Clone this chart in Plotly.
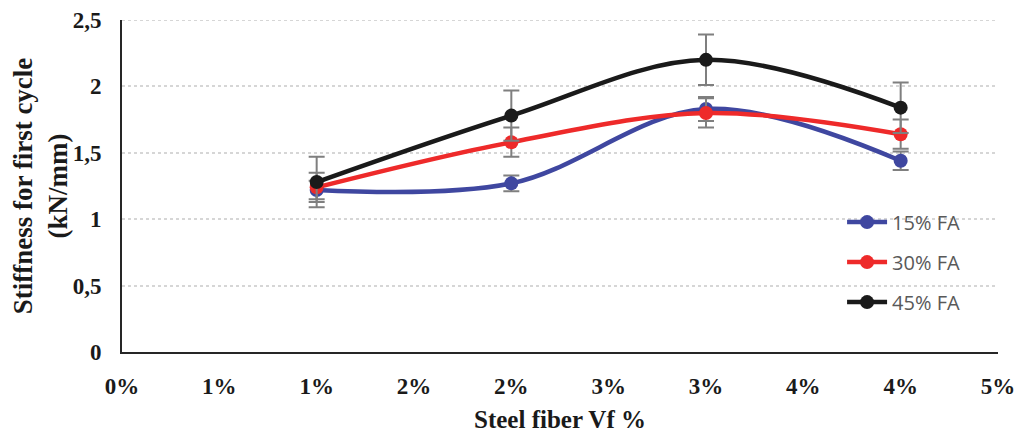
import plotly.graph_objects as go

x_vals = [1.0, 2.0, 3.0, 4.0]
fa15 = [1.22, 1.27, 1.83, 1.44]
fa30 = [1.24, 1.58, 1.80, 1.64]
fa45 = [1.28, 1.78, 2.20, 1.84]
err15 = [0.07, 0.06, 0.09, 0.07]
err30 = [0.11, 0.11, 0.11, 0.11]
err45 = [0.19, 0.19, 0.19, 0.19]
names = ["15% FA", "30% FA", "45% FA"]
colors = ["#3F47A0", "#EE2A2A", "#1A1A1A"]
x_tickvals = [0, 0.5, 1, 1.5, 2, 2.5, 3, 3.5, 4, 4.5]
x_ticktext = ["0%", "1%", "1%", "2%", "2%", "3%", "3%", "4%", "4%", "5%"]
y_tickvals = [0, 0.5, 1, 1.5, 2, 2.5]
y_ticktext = ["0", "0,5", "1", "1,5", "2", "2,5"]

fig = go.Figure()
for name, ys, es, c in zip(names, [fa15, fa30, fa45], [err15, err30, err45], colors):
    fig.add_trace(go.Scatter(
        x=x_vals, y=ys, name=name, legendgroup=name, mode="lines+markers",
        line=dict(color=c, width=4.5, shape="spline", smoothing=1.0),
        marker=dict(color=c, size=14),
        error_y=dict(type="data", array=es, visible=True, color="#7F7F7F", thickness=2, width=8),
    ))

grid_color = "#D6D6D6"
# top gridline (Plotly omits the gridline lying on the plot edge)
fig.add_shape(type="line", xref="paper", x0=0, x1=1, yref="y", y0=y_tickvals[-1], y1=y_tickvals[-1],
              line=dict(color=grid_color, width=2, dash="dot"), layer="below")

serif = "Liberation Serif"
# page body has an 8px margin in the browser, so the figure is sized/offset to compensate
fig.update_layout(
    width=1014, height=425,
    margin=dict(l=114, r=24, t=12, b=81),
    paper_bgcolor="white", plot_bgcolor="white",
    showlegend=True,
    legend=dict(x=0.822, y=0.45, xanchor="left", yanchor="top", traceorder="grouped",
                font=dict(family="Open Sans", size=20, color="#595959"),
                bgcolor="rgba(0,0,0,0)", tracegroupgap=11, itemwidth=40),
    xaxis=dict(range=[0, 4.5], tickvals=x_tickvals, ticktext=x_ticktext, automargin=False,
               showgrid=False, zeroline=False, showline=True, linecolor="#262626", linewidth=2,
               ticks="", ticklabelstandoff=12, ticklabeloverflow="allow",
               tickfont=dict(family=serif, size=23, color="#1a1a1a", weight="bold"),
               title=dict(text="<b>Steel fiber Vf %</b>", font=dict(family=serif, size=25, color="#1a1a1a"), standoff=14)),
    yaxis=dict(range=[0, 2.5], tickvals=y_tickvals, ticktext=y_ticktext, automargin=False,
               showgrid=True, gridcolor=grid_color, griddash="dot", gridwidth=2,
               zeroline=False, showline=True, linecolor="#262626", linewidth=2,
               ticks="", ticklabelstandoff=14, ticklabeloverflow="allow",
               tickfont=dict(family=serif, size=23, color="#1a1a1a", weight="bold"),
               title=dict(text="<b>Stiffness for first cycle<br>(kN/mm)</b>", font=dict(family=serif, size=27, color="#1a1a1a"), standoff=6)),
)
fig.write_html("out.html")
